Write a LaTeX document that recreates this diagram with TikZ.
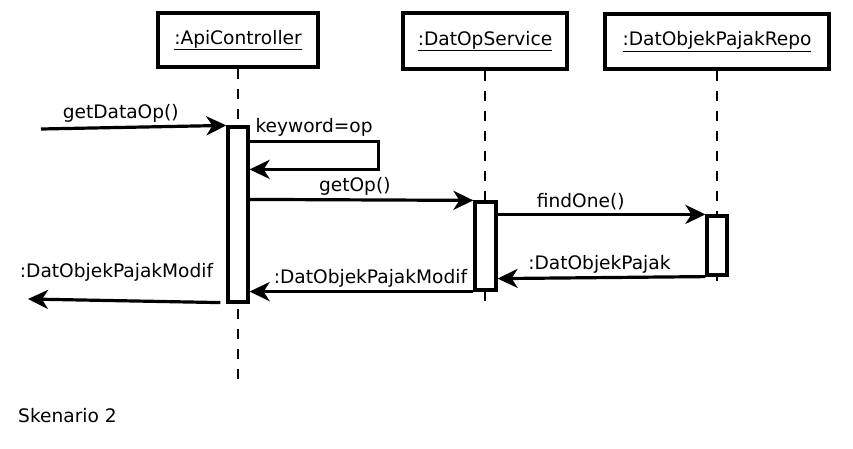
\documentclass[tikz,border=0pt]{standalone}
\usepackage{fontspec}
\setmainfont{DejaVu Sans}
\usetikzlibrary{positioning,arrows.meta}
\tikzset{
  obj/.style={rectangle,draw,line width=3.2pt,minimum height=54pt,inner sep=0pt,align=center},
  act/.style={rectangle,draw,fill=white,line width=3.2pt,minimum width=20pt,inner sep=0pt},
  life/.style={line width=1.3pt,dash pattern=on 10pt off 10pt},
  msg/.style={-{Stealth[length=20pt,width=19pt,inset=6pt]},line width=3.2pt},
  lbl/.style={above=3pt,inner sep=0pt},
}
\begin{document}
\begin{tikzpicture}[x=1pt,y=-1pt,font=\fontsize{18.6}{22}\selectfont]
  \useasboundingbox (0,0) rectangle (853,449);
  % objects
  \node[obj,minimum width=160pt] (api) at (238,40) {\underline{:ApiController}};
  \node[obj,minimum width=164pt,minimum height=56pt] (svc) at (485,41) {\underline{:DatOpService}};
  \node[obj,minimum width=224pt,minimum height=55pt] (repo) at (717,41.5) {\underline{:DatObjekPajakRepo}};
  % lifelines
  \coordinate (apiEnd) at (238,385);
  \coordinate (svcEnd) at (485,302);
  \coordinate (repoEnd) at (717,286);
  \draw[life] (api.south) -- (apiEnd);
  \draw[life] (svc.south) -- (svcEnd);
  \draw[life] (repo.south) -- (repoEnd);
  % activations
  \node[act,minimum height=175pt] (actA) at (238,214.5) {};
  \node[act,minimum height=88pt,minimum width=21pt] (actS) at (485.5,246) {};
  \node[act,minimum height=59pt] (actR) at (717,245.5) {};
  % messages
  \coordinate (inStart) at (41,129);
  \coordinate (outEnd) at (28,299);
  \draw[msg] (inStart) -- node[lbl,pos=0.43]{getDataOp()} (actA.north west);
  \draw[msg] ([yshift=-16pt]actA.north east) -- node[lbl]{keyword=op} ++(129,0)
    -- ++(0,28) -- ([yshift=-44pt]actA.north east);
  \draw[msg] ([yshift=-74pt]actA.north east) -- node[lbl,pos=0.47]{getOp()} (actS.north west);
  \draw[msg] (actS.east |- actR.north) -- node[lbl,pos=0.4]{findOne()} (actR.north west);
  \draw[msg] (actR.south west) -- node[lbl,pos=0.51]{:DatObjekPajak} ([yshift=13pt]actS.south east);
  \draw[msg] (actS.south west) -- node[lbl,pos=0.46]{:DatObjekPajakModif} ([yshift=12pt]actA.south east);
  \draw[msg] ([xshift=-6pt,yshift=1pt]actA.south west) -- node[above=18pt,inner sep=0pt,pos=0.54]{:DatObjekPajakModif} (outEnd);
  \node[anchor=west,inner sep=0pt] (cap) at (18,416) {Skenario 2};
\end{tikzpicture}
\end{document}
